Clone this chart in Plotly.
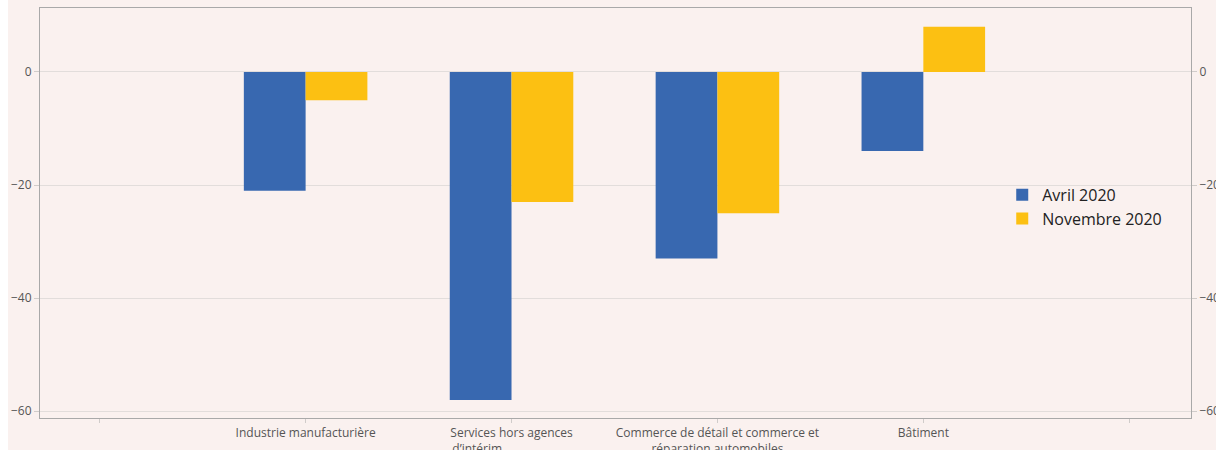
import plotly.graph_objects as go

# Secteurs (les positions vides aux extrémités encadrent le graphique)
NBSP = "\u00a0"
categories = [
    "",
    "Industrie manufacturière",
    "Services hors agences<br>d’intérim" + NBSP * 22,
    "Commerce de détail et commerce et<br>réparation automobiles",
    "Bâtiment",
    "",
]
secteurs = categories[1:5]
avril_2020 = [-21, -58, -33, -14]
novembre_2020 = [-5, -23, -25, 8]
y_ticks = [0, -20, -40, -60]
y_labels = ["0", "−20", "−40", "−60"]

BLUE = "#3868B0"
YELLOW = "#FCC012"
BG = "#FAF1EF"
AXIS = "#A9A9A9"
GRID = "#E2DDDB"
TXT = "#555555"

positions = list(range(1, 1 + len(secteurs)))

fig = go.Figure()
fig.add_trace(go.Bar(x=positions, y=avril_2020, name="Avril 2020",
                     marker=dict(color=BLUE, line=dict(width=0))))
fig.add_trace(go.Bar(x=positions, y=novembre_2020, name="Novembre 2020",
                     marker=dict(color=YELLOW, line=dict(width=0))))
# trace invisible pour afficher l'axe de droite
fig.add_trace(go.Scatter(x=[positions[0]], y=[0], yaxis="y2", mode="markers",
                         marker=dict(opacity=0), showlegend=False, hoverinfo="skip"))

yrange = [-61.2, 11.3]
fig.update_layout(
    width=1216, height=450,
    margin=dict(l=40, r=25, t=8, b=32),
    paper_bgcolor=BG, plot_bgcolor=BG,
    barmode="group", bargap=0.4, bargroupgap=0,
    font=dict(family="Open Sans, Noto Sans, sans-serif", color=TXT, size=12),
    xaxis=dict(
        range=[-0.29, 5.3], automargin=False,
        tickmode="array", tickvals=list(range(len(categories))), ticktext=categories,
        showgrid=False, zeroline=False,
        showline=True, linecolor=AXIS, linewidth=1, mirror=True,
        ticks="outside", ticklen=4, tickcolor="#D0CCCA",
        tickfont=dict(size=12, color=TXT),
    ),
    yaxis=dict(
        range=yrange, automargin=False, tickvals=y_ticks, ticktext=y_labels,
        showgrid=True, gridcolor=GRID, gridwidth=1, zeroline=False,
        showline=True, linecolor=AXIS, linewidth=1, mirror=True,
        ticks="outside", ticklen=5, tickcolor="#D0CCCA",
        tickfont=dict(size=12, color=TXT),
    ),
    yaxis2=dict(
        range=yrange, automargin=False, overlaying="y", side="right", matches="y",
        tickvals=y_ticks, ticktext=y_labels,
        showgrid=False, zeroline=False, showline=False,
        ticks="outside", ticklen=5, tickcolor="#D0CCCA",
        tickfont=dict(size=12, color=TXT),
    ),
    legend=dict(
        x=0.836, y=0.586, xanchor="left", yanchor="top",
        bgcolor="rgba(0,0,0,0)",
        font=dict(size=16, color="#222222", family="Open Sans, sans-serif"),
        itemwidth=30, tracegroupgap=0,
    ),
    shapes=[dict(type="rect", xref="paper", yref="paper",
                 x0=-0.05, x1=-0.0278, y0=-0.2, y1=1.1,
                 fillcolor="white", line=dict(width=0), layer="below")],
)

fig.write_html("out.html")
